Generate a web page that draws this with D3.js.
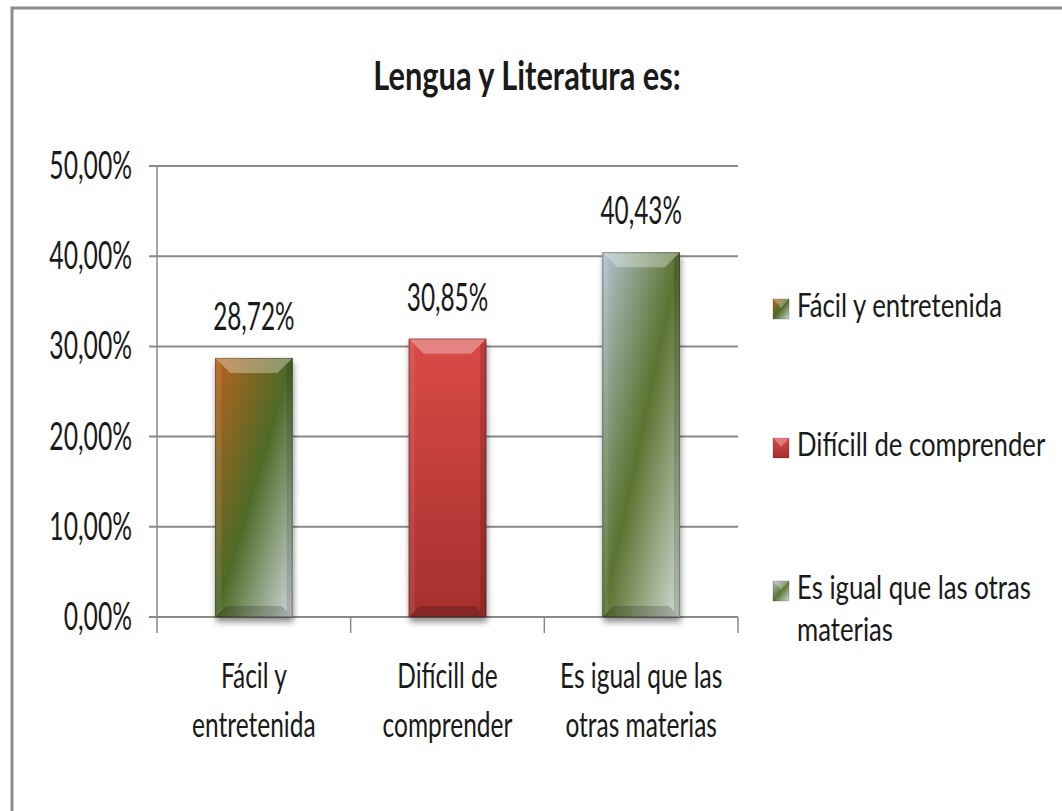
<!DOCTYPE html>
<html>
<head>
<meta charset="utf-8">
<script src="https://cdn.jsdelivr.net/npm/d3@7"></script>
<style>
  body { margin: 0; background: #fff; }
  text { font-family: Lato, "Open Sans", sans-serif; fill: #1a1a1a; }
</style>
</head>
<body>
<div id="chart"></div>
<script>
// chart data
var title = 'Lengua y Literatura es:';
var categories = ['Fácil y entretenida', 'Difícill de comprender', 'Es igual que las otras materias'];
var categoryLines = [['Fácil y', 'entretenida'], ['Difícill de', 'comprender'], ['Es igual que las', 'otras materias']];
var legendLines = [['Fácil y entretenida'], ['Difícill de comprender'], ['Es igual que las otras', 'materias']];
var values = [0.2872, 0.3085, 0.4043];
var yTicks = [0, 0.1, 0.2, 0.3, 0.4, 0.5];

var width = 1062, height = 811;
var plot = {left: 157, right: 738, top: 166, bottom: 617};

var locale = d3.formatLocale({decimal: ',', thousands: '.', grouping: [3], currency: ['', '€']});
var pct = locale.format('.2%');

var svg = d3.select('#chart').append('svg')
            .attr('width', width)
            .attr('height', height);

var defs = svg.append('defs');

// gradients for the three series
var gradients = [
  {id: 'g0', x2: 1, y2: 1, stops: [[0, '#b8631e'], [0.5, '#4e6a27'], [1, '#cfd9dc']]},
  {id: 'g1', x2: 0, y2: 1, stops: [[0, '#da4a47'], [1, '#a5302e']]},
  {id: 'g2', x2: 1, y2: 1, stops: [[0, '#b3c4d2'], [0.5, '#5b7330'], [1, '#d3dbd6']]}
];
gradients.forEach(function(g) {
  var lg = defs.append('linearGradient')
               .attr('id', g.id)
               .attr('x1', 0).attr('y1', 0)
               .attr('x2', g.x2).attr('y2', g.y2);
  g.stops.forEach(function(s) {
    lg.append('stop').attr('offset', s[0]).attr('stop-color', s[1]);
  });
});

var shadow = defs.append('filter').attr('id', 'shadow')
                 .attr('x', '-20%').attr('y', '-20%')
                 .attr('width', '140%').attr('height', '140%');
shadow.append('feDropShadow')
      .attr('dx', 1).attr('dy', 5)
      .attr('stdDeviation', 3)
      .attr('flood-color', '#000')
      .attr('flood-opacity', 0.45);

function squeezeText(g, str, x, y, size, sx, anchor, weight) {
  return g.append('text')
          .attr('transform', 'translate(' + x + ',' + y + ') scale(' + sx + ',1)')
          .attr('font-size', size)
          .attr('font-weight', weight || 'normal')
          .attr('text-anchor', anchor || 'middle')
          .text(str);
}

// outer frame
svg.append('rect')
   .attr('x', 12).attr('y', 8)
   .attr('width', width + 20).attr('height', height + 20)
   .attr('fill', 'none')
   .attr('stroke', '#8c8c8c')
   .attr('stroke-width', 3);

// title
squeezeText(svg, title, 527, 90, 40, 0.77, 'middle', 'bold');

// scales
var x = d3.scaleBand()
          .domain(categories)
          .range([plot.left, plot.right])
          .paddingInner(0.6)
          .paddingOuter(0.3);

var y = d3.scaleLinear()
          .domain([0, 0.5])
          .range([plot.bottom, plot.top]);

// gridlines
var grid = svg.append('g').attr('class', 'grid');
grid.selectAll('line')
    .data(yTicks)
    .enter()
    .append('line')
    .attr('x1', plot.left - 8)
    .attr('x2', plot.right)
    .attr('y1', function(d) { return y(d); })
    .attr('y2', function(d) { return y(d); })
    .attr('stroke', '#8a8a8a')
    .attr('stroke-width', 2);

// y axis line
svg.append('line')
   .attr('x1', plot.left).attr('x2', plot.left)
   .attr('y1', plot.top).attr('y2', plot.bottom + 16)
   .attr('stroke', '#8a8a8a')
   .attr('stroke-width', 1.5);

// category boundary ticks
var step = x.step();
var bounds = d3.range(1, categories.length + 1).map(function(i) { return plot.left + i * step; });
svg.append('g').selectAll('line')
   .data(bounds)
   .enter()
   .append('line')
   .attr('x1', function(d) { return d; })
   .attr('x2', function(d) { return d; })
   .attr('y1', plot.bottom)
   .attr('y2', plot.bottom + 16)
   .attr('stroke', '#8a8a8a')
   .attr('stroke-width', 1.5);

// y tick labels
var yLabels = svg.append('g');
yTicks.forEach(function(t) {
  squeezeText(yLabels, pct(t), 132, y(t) + 13, 38, 0.65, 'end');
});

// bars
var barsG = svg.append('g').attr('class', 'bars');
values.forEach(function(v, i) {
  var bx = x(categories[i]);
  var bw = x.bandwidth();
  var by = y(v);
  var bh = y(0) - y(v);
  var g = barsG.append('g');

  g.append('rect')
   .attr('x', bx).attr('y', by)
   .attr('width', bw).attr('height', bh)
   .attr('fill', '#555')
   .attr('filter', 'url(#shadow)');

  g.append('rect')
   .attr('x', bx).attr('y', by)
   .attr('width', bw).attr('height', bh)
   .attr('fill', 'url(#g' + i + ')');

  var bt = 15, bb = 11, bs = 6;
  // top bevel
  g.append('path')
   .attr('d', 'M' + bx + ',' + by + 'L' + (bx + bw) + ',' + by +
              'L' + (bx + bw - bt) + ',' + (by + bt) + 'L' + (bx + bt) + ',' + (by + bt) + 'Z')
   .attr('fill', '#fff').attr('fill-opacity', 0.32);
  // bottom bevel
  g.append('path')
   .attr('d', 'M' + bx + ',' + (by + bh) + 'L' + (bx + bw) + ',' + (by + bh) +
              'L' + (bx + bw - bb) + ',' + (by + bh - bb) + 'L' + (bx + bb) + ',' + (by + bh - bb) + 'Z')
   .attr('fill', '#000').attr('fill-opacity', 0.18);
  // right edge
  g.append('path')
   .attr('d', 'M' + (bx + bw) + ',' + by + 'L' + (bx + bw) + ',' + (by + bh) +
              'L' + (bx + bw - bs) + ',' + (by + bh - bs) + 'L' + (bx + bw - bs) + ',' + (by + bs) + 'Z')
   .attr('fill', '#000').attr('fill-opacity', 0.15);
  // left edge
  g.append('path')
   .attr('d', 'M' + bx + ',' + by + 'L' + bx + ',' + (by + bh) +
              'L' + (bx + bs) + ',' + (by + bh - bs) + 'L' + (bx + bs) + ',' + (by + bs) + 'Z')
   .attr('fill', '#fff').attr('fill-opacity', 0.08);

  g.append('rect')
   .attr('x', bx + 0.5).attr('y', by + 0.5)
   .attr('width', bw - 1).attr('height', bh - 1)
   .attr('fill', 'none')
   .attr('stroke', '#000').attr('stroke-opacity', 0.25);

  // value label
  squeezeText(svg, pct(v), bx + bw / 2, by - 28, 38, 0.64, 'middle');
});

// category labels
var catG = svg.append('g');
categoryLines.forEach(function(lines, i) {
  var cx = x(categories[i]) + x.bandwidth() / 2;
  lines.forEach(function(l, j) {
    squeezeText(catG, l, cx, 688 + j * 49, 35, 0.7, 'middle');
  });
});

// legend
var legend = svg.append('g');
var legendBase = [317, 456, 599];
legendLines.forEach(function(lines, i) {
  var ly = legendBase[i];
  legend.append('rect')
        .attr('x', 773).attr('y', ly - 18)
        .attr('width', 16).attr('height', 20)
        .attr('fill', 'url(#g' + i + ')')
        .attr('stroke', '#000').attr('stroke-opacity', 0.2);
  legend.append('path')
        .attr('d', 'M773,' + (ly - 18) + 'L789,' + (ly - 18) + 'L781,' + (ly - 9) + 'Z')
        .attr('fill', '#fff').attr('fill-opacity', 0.3);
  lines.forEach(function(l, j) {
    squeezeText(legend, l, 797, ly + j * 42, 33, 0.78, 'start');
  });
});
</script>
</body>
</html>
